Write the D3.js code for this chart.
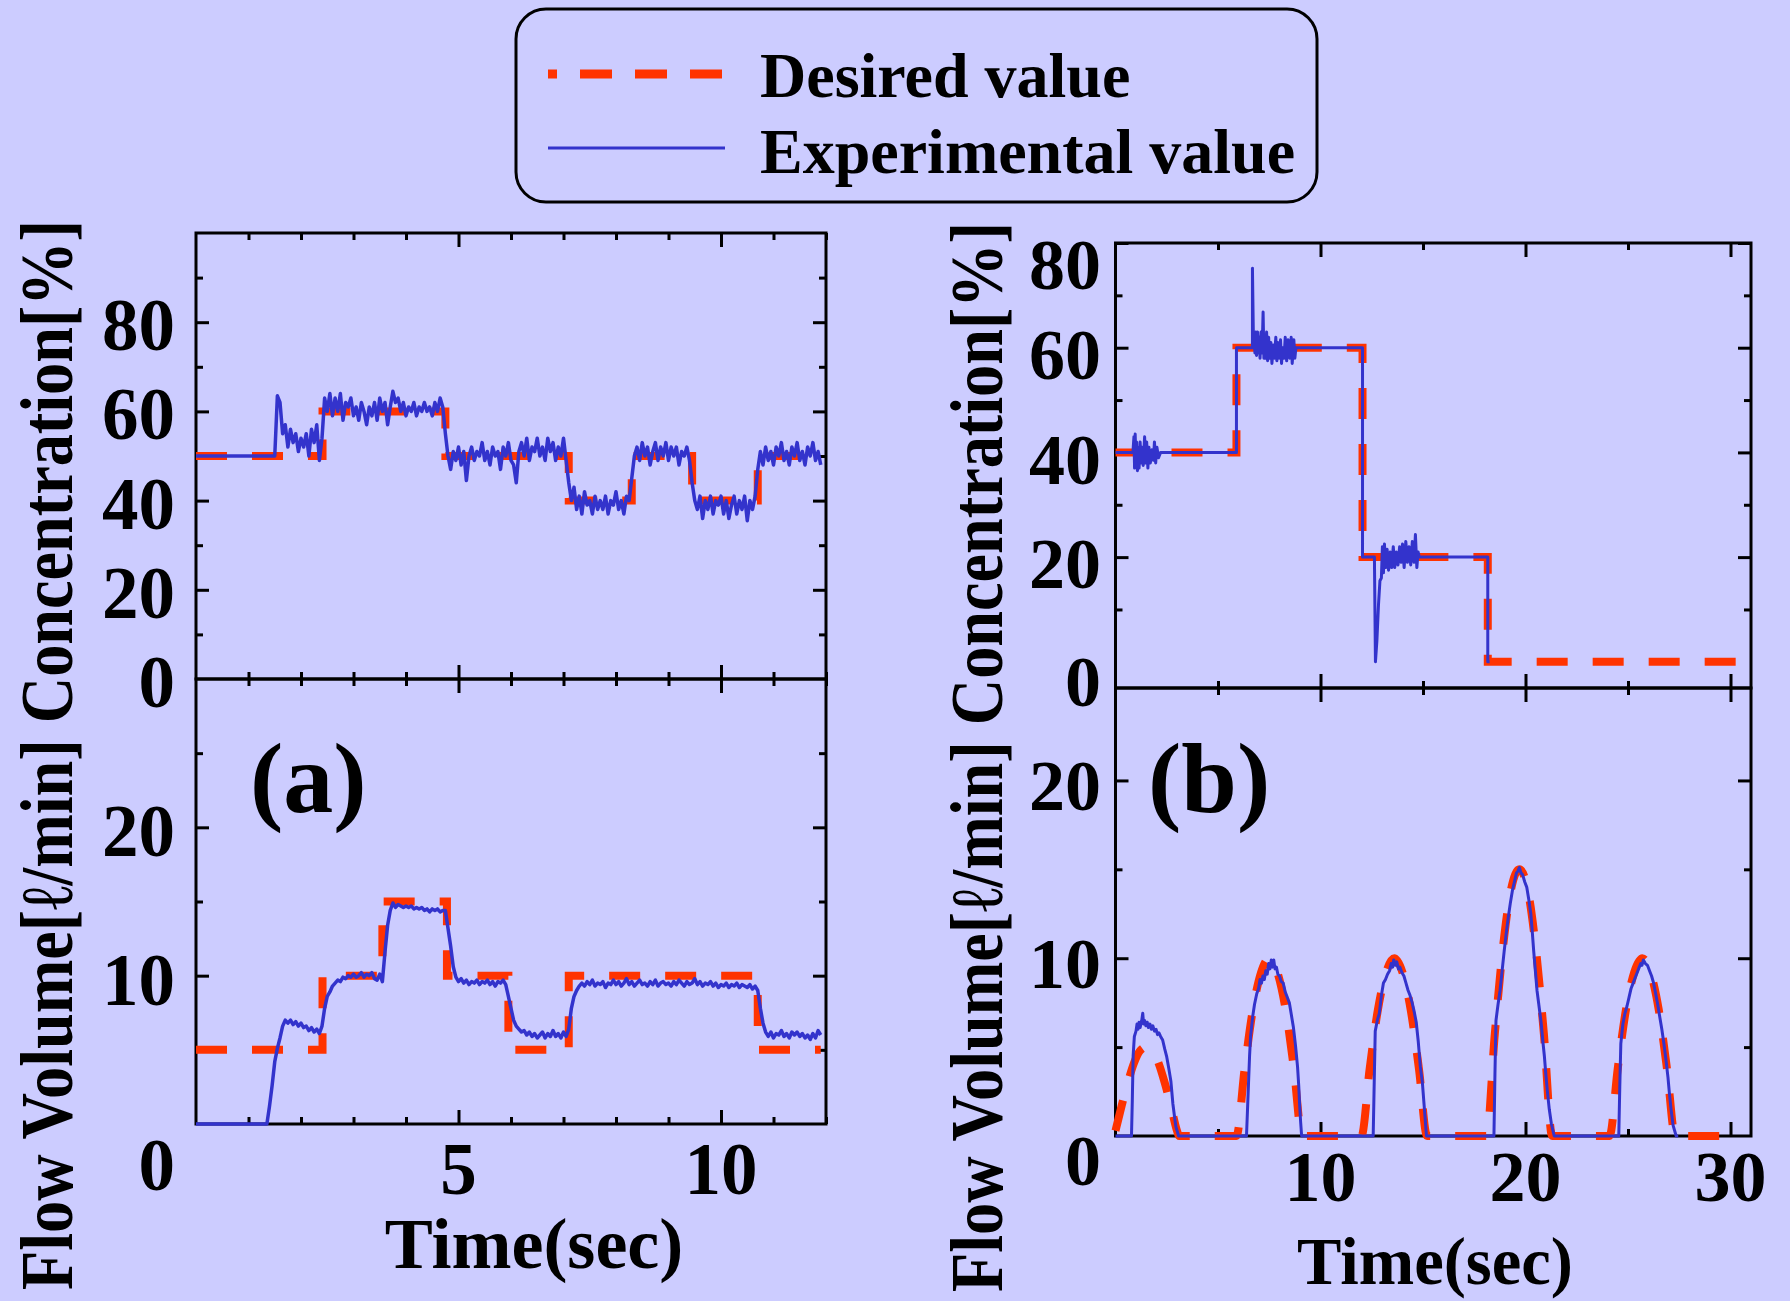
<!DOCTYPE html>
<html>
<head>
  <meta charset="utf-8">
  <title>Concentration and flow volume control</title>
  <script src="https://d3js.org/d3.v7.min.js"></script>
  <style>
    body { margin: 0; background: #ccccff; }
    svg { display: block; }
    text { font-family: 'Liberation Serif', 'Times New Roman', serif; font-weight: bold; fill: #000; }
  </style>
</head>
<body>
<svg id="chart" width="1790" height="1301"></svg>
<script>
// ---- data -------------------------------------------------------------
// panel (a): concentration [%] and flow volume [l/min], sampled every 0.05 s
const sampleStepA = 0.05;
const concADesired = [[0, 50], [2.41, 50], [2.41, 60], [4.75, 60], [4.75, 50], [7.1, 50], [7.1, 40],
  [8.3, 40], [8.3, 50], [9.45, 50], [9.45, 40], [10.7, 40], [10.7, 50], [11.9, 50]];
const concAExperimental = [
  50,50,50,50,50,50,50,50,50,50,50,50,50,50,50,50,50,50,50,50,
  50,50,50,50,50,50,50,50,50,50,50,63.5,62,55,57,52,56,53,55,51,
  54,52,55,50,56,53,57,49,54,63,60,64,59,63,60,64,58,62,61,63,
  59,61,58,62,60,57,61,59,62,58,63,60,62,57,61,64.5,62,63,60,62,
  59,61,60,62,59,61,60,62,60,61,59,62,60,63,61,55,50,47,51,49,
  52,48,51,44.5,50,52,49,51,50,53,49,51,48,52,50,51,47,52,50,53,
  49,48,44,51,53,50,54,49,52,51,54,50,52,49,54,51,53,49,52,50,
  54,49,44,40,43,38,41,37,42,39,40,37,41,38,40,38,41,37,40,39,
  42,38,40,37,41,40,45,50,52,49,53,50,52,48,51,53,49,52,50,53,
  49,52,50,52,48,51,50,52,49,44,40,38,41,36,40,38,41,37,40,39,
  41,37,40,36,39,41,37,40,38,41,35.5,40,38,41,47,51,48,52,49,51,
  48,52,50,53,49,51,48,52,50,53,49,51,48,52,50,53,49,51,48
];
const flowADesired = [[0, 5], [2.41, 5], [2.41, 10], [3.55, 10], [3.55, 15], [4.78, 15], [4.78, 10],
  [5.95, 10], [5.95, 5], [7.1, 5], [7.1, 10], [10.7, 10], [10.7, 5], [11.9, 5]];
const flowAExperimental = [
  0,0,0,0,0,0,0,0,0,0,0,0,0,0,0,0,0,0,0,0,
  0,0,0,0,0,0,0,0,1.2,2.6,4.2,5.1,5.8,6.6,7.0,6.8,7.0,6.7,6.9,6.6,
  6.8,6.5,6.6,6.3,6.5,6.2,6.4,6.1,6.6,7.8,8.6,8.9,9.3,9.5,9.7,9.6,9.9,9.8,10.0,9.9,
  10.1,9.9,10.0,10.2,9.9,10.1,10.0,10.2,9.8,9.7,10.1,9.6,11.6,13.4,14.4,14.9,14.6,14.8,14.7,14.6,
  14.7,14.6,14.7,14.5,14.6,14.5,14.6,14.4,14.5,14.3,14.5,14.4,14.5,14.3,14.4,14.4,13.2,12.0,10.6,9.9,
  9.6,9.8,9.5,9.7,9.4,9.6,9.5,9.7,9.4,9.6,9.5,9.7,9.4,9.6,9.3,9.6,9.5,9.7,9.4,8.6,
  7.8,7.0,6.6,6.4,6.2,6.3,6.0,6.2,5.9,6.1,5.8,6.0,6.2,5.8,6.1,5.9,6.3,5.9,6.1,5.8,
  6.2,5.9,6.4,7.8,8.6,9.0,9.3,9.5,9.3,9.6,9.4,9.7,9.3,9.5,9.4,9.6,9.2,9.5,9.4,9.7,
  9.4,9.6,9.3,9.5,9.8,9.4,9.6,9.3,9.5,9.7,9.4,9.5,9.3,9.6,9.4,9.7,9.3,9.5,9.6,9.4,
  9.5,9.3,9.6,9.4,9.7,9.5,9.3,9.6,9.4,9.5,9.8,9.4,9.6,9.3,9.5,9.4,9.6,9.3,9.5,9.2,
  9.4,9.3,9.5,9.2,9.4,9.3,9.5,9.2,9.4,9.3,9.2,9.4,9.1,9.3,9.0,7.8,6.8,6.2,5.9,6.2,
  5.8,6.1,6.0,6.3,5.9,6.1,5.8,6.2,6.0,6.2,5.9,6.1,5.8,6.0,5.7,6.1,5.8,6.3,6.0
];

// panel (b): [time s, value]
const concBDesired = [[0, 40], [5.9, 40], [5.9, 60], [12.05, 60], [12.05, 20], [18.16, 20], [18.16, 0], [30.3, 0]];
const concBExperimental = [
  [0, 40], [0.85, 40], [0.9, 43], [0.93, 37], [0.96, 43.5], [1.0, 38], [1.03, 42], [1.07, 36.5], [1.1, 41],
  [1.15, 37], [1.2, 42], [1.25, 38], [1.3, 41], [1.35, 37.5], [1.42, 43], [1.47, 38], [1.52, 42], [1.58, 37],
  [1.63, 41], [1.7, 38], [1.78, 40.5], [1.85, 38.5], [1.9, 42], [1.96, 38], [2.02, 41], [2.1, 39], [2.2, 40],
  [5.9, 40], [5.9, 60], [6.68, 60], [6.68, 75.2], [6.73, 61], [6.76, 63], [6.8, 59], [6.84, 63], [6.88, 58.5],
  [6.93, 63], [6.97, 59], [7.02, 62], [7.05, 58], [7.1, 63], [7.15, 59], [7.2, 66.8], [7.24, 58], [7.28, 61],
  [7.32, 58], [7.37, 63], [7.42, 57.5], [7.47, 62], [7.52, 58], [7.58, 61], [7.63, 57], [7.7, 60.5], [7.75, 58],
  [7.82, 62], [7.87, 57.5], [7.92, 61], [7.98, 58], [8.05, 61.5], [8.1, 57], [8.15, 60], [8.22, 58], [8.28, 62],
  [8.35, 57.5], [8.42, 61.5], [8.5, 58], [8.57, 62], [8.62, 57], [8.7, 61.5], [8.75, 58], [8.8, 60],
  [12.05, 60], [12.05, 20], [12.63, 20], [12.68, 0], [12.75, 4], [12.83, 11], [12.9, 15.5], [12.97, 16],
  [13.02, 22], [13.07, 17], [13.12, 22.5], [13.18, 18], [13.25, 21.5], [13.32, 17.5], [13.4, 21], [13.47, 18],
  [13.55, 22], [13.62, 18], [13.7, 21], [13.78, 18.5], [13.86, 22], [13.93, 19], [14.0, 22.5], [14.08, 18],
  [14.16, 23], [14.24, 19], [14.32, 22], [14.4, 18.5], [14.48, 23], [14.56, 19], [14.63, 24.3], [14.7, 18],
  [14.76, 21], [14.82, 20], [18.16, 20], [18.16, 0], [18.25, 0]
];
const flowBDesired = [
  [0, 0.3], [0.3, 1.7], [0.6, 3.0], [0.9, 4.1], [1.2, 4.8], [1.5, 5.0], [1.8, 4.8], [2.1, 4.1], [2.4, 3.0], [2.7, 1.7], [3.0, 0.3], [3.1, 0],
  [5.9, 0], [6.3, 3.8], [6.7, 7.1], [7.1, 9.2], [7.5, 10], [7.9, 9.2], [8.3, 7.1], [8.7, 3.8], [9.1, 0],
  [12.0, 0], [12.4, 3.8], [12.8, 7.1], [13.2, 9.2], [13.6, 10], [14.0, 9.2], [14.4, 7.1], [14.8, 3.8], [15.2, 0],
  [18.1, 0], [18.5, 5.7], [18.9, 10.6], [19.3, 13.9], [19.7, 15], [20.1, 13.9], [20.5, 10.6], [20.9, 5.7], [21.3, 0],
  [24.1, 0], [24.5, 3.8], [24.9, 7.1], [25.3, 9.2], [25.7, 10], [26.1, 9.2], [26.5, 7.1], [26.9, 3.8], [27.3, 0],
  [30.3, 0]
];
const flowBExperimental = [
  [0, 0], [0.78, 0], [0.82, 2.0], [0.86, 4.5], [0.92, 5.6], [1.0, 5.9], [1.05, 6.3], [1.1, 6.0], [1.15, 6.4], [1.2, 6.1],
  [1.28, 6.5], [1.33, 6.9], [1.37, 6.3], [1.42, 6.5], [1.48, 6.2], [1.55, 6.4], [1.6, 6.1], [1.68, 6.3], [1.75, 6.0],
  [1.82, 6.2], [1.9, 5.9], [1.98, 6.0], [2.05, 5.7], [2.12, 5.8], [2.2, 5.6], [2.3, 5.4], [2.4, 4.9], [2.5, 4.45],
  [2.6, 3.8], [2.7, 3.1], [2.8, 1.8], [2.9, 0.9], [2.95, 0.5], [3.08, 0],
  [6.39, 0], [6.44, 1.5], [6.49, 3.0], [6.54, 4.5], [6.59, 5.6], [6.69, 6.7], [6.78, 7.4], [6.89, 8.0], [6.98, 8.3],
  [7.05, 8.8], [7.12, 8.6], [7.19, 9.0], [7.26, 8.8], [7.33, 9.3], [7.4, 9.1], [7.47, 9.7], [7.53, 9.4], [7.6, 9.9],
  [7.66, 9.5], [7.72, 9.9], [7.78, 9.4], [7.85, 9.5], [7.92, 9.1], [8.0, 9.0], [8.08, 8.7], [8.18, 8.6], [8.28, 8.1],
  [8.38, 7.8], [8.48, 7.5], [8.58, 6.8], [8.68, 6.1], [8.78, 5.1], [8.88, 3.9], [8.94, 2.8], [8.98, 1.8], [9.03, 0.8], [9.08, 0],
  [12.57, 0], [12.62, 3.0], [12.67, 5.9], [12.77, 6.5], [12.87, 6.9], [12.97, 7.9], [13.07, 8.6], [13.17, 8.8], [13.27, 9.1],
  [13.37, 9.3], [13.45, 9.7], [13.52, 9.5], [13.57, 9.9], [13.65, 9.6], [13.72, 9.8], [13.8, 9.4], [13.87, 9.5], [13.97, 9.2],
  [14.07, 9.0], [14.17, 8.6], [14.27, 8.2], [14.37, 7.9], [14.47, 7.5], [14.57, 7.0], [14.67, 6.4], [14.77, 5.3],
  [14.87, 3.9], [14.97, 3.0], [15.07, 1.5], [15.17, 0],
  [18.46, 0], [18.51, 3.5], [18.56, 6.5], [18.66, 7.4], [18.76, 8.2], [18.86, 9.3], [18.96, 10.4], [19.06, 11.4],
  [19.16, 12.3], [19.26, 13.1], [19.36, 13.8], [19.46, 14.3], [19.56, 14.8], [19.63, 14.9], [19.7, 15.1], [19.78, 14.8],
  [19.86, 14.7], [19.96, 14.3], [20.06, 14.0], [20.16, 13.3], [20.26, 12.5], [20.33, 11.5], [20.4, 10.4], [20.48, 9.3],
  [20.56, 8.2], [20.66, 7.3], [20.76, 6.4], [20.84, 5.4], [20.92, 4.5], [20.99, 3.5], [21.06, 2.6], [21.16, 1.5],
  [21.26, 0.7], [21.4, 0],
  [24.55, 0], [24.6, 2.8], [24.65, 5.2], [24.75, 6.3], [24.85, 6.9], [24.95, 7.3], [25.05, 7.8], [25.15, 8.3], [25.25, 8.6],
  [25.35, 8.9], [25.45, 9.2], [25.55, 9.5], [25.62, 9.7], [25.68, 9.6], [25.75, 9.9], [25.85, 9.7], [25.95, 9.6],
  [26.05, 9.3], [26.15, 9.0], [26.25, 8.6], [26.35, 8.0], [26.45, 7.4], [26.55, 6.7], [26.65, 6.0], [26.75, 5.2],
  [26.85, 4.3], [26.95, 3.3], [27.02, 2.4], [27.1, 1.5], [27.2, 0.6], [27.35, 0], [27.45, 0]
];

const yTicksConcA = [0, 20, 40, 60, 80];
const yTicksFlowA = [10, 20];
const xTicksA = [5, 10];
const yTicksConcB = [0, 20, 40, 60, 80];
const yTicksFlowB = [10, 20];
const xTicksB = [10, 20, 30];

// ---- layout -----------------------------------------------------------
const RED = "#ff3300", BLUE = "#3333cc";
const svg = d3.select("#chart");
svg.append("rect").attr("width", 1790).attr("height", 1301).attr("fill", "#ccccff");

const xA = d3.scaleLinear().domain([0, 12]).range([196, 826]);
const yConcA = d3.scaleLinear().domain([0, 100]).range([679, 233]);
const yFlowA = d3.scaleLinear().domain([0, 30]).range([1124, 679]);

const xB = d3.scaleLinear().domain([0, 31]).range([1115.5, 1751]);
const yConcB = d3.scaleLinear().domain([-5, 80]).range([688, 243]);
const yFlowB = d3.scaleLinear().domain([0, 25.2]).range([1136, 688]);

const stepSeries = (vals, dt) => vals.map((v, i) => [i * dt, v]);

// inward ticks for one box: major ticks long, minor ones short
function boxTicks(x, y, xMajor, xMinor, yMajor, yMinor) {
  const [x0, x1] = x.range();
  const [yb, yt] = y.range();
  const g = svg.append("g");
  const put = (axisFn, scale, values, size, tx, ty) => {
    const a = g.append("g").attr("transform", `translate(${tx},${ty})`)
      .call(axisFn(scale).tickValues(values).tickSize(-size).tickFormat(""));
    a.select(".domain").remove();
    a.selectAll("line").attr("stroke", "#000").attr("stroke-width", 3);
  };
  put(d3.axisLeft, y, yMajor, 13, x0, 0);
  put(d3.axisLeft, y, yMinor, 7, x0, 0);
  put(d3.axisRight, y, yMajor, 13, x1, 0);
  put(d3.axisRight, y, yMinor, 7, x1, 0);
  put(d3.axisTop, x, xMajor, 14, 0, yt);
  put(d3.axisTop, x, xMinor, 7, 0, yt);
  put(d3.axisBottom, x, xMajor, 14, 0, yb);
  put(d3.axisBottom, x, xMinor, 7, 0, yb);
  g.append("rect")
    .attr("x", x0).attr("y", yt).attr("width", x1 - x0).attr("height", yb - yt)
    .attr("fill", "none").attr("stroke", "#000").attr("stroke-width", 3);
}

function drawLines(x, y, desired, experimental, curve, blueWidth) {
  const desiredLine = d3.line().x(d => x(d[0])).y(d => y(d[1])).curve(curve);
  const line = d3.line().x(d => x(d[0])).y(d => y(d[1]));
  svg.append("path").datum(desired)
    .attr("d", desiredLine).attr("fill", "none")
    .attr("stroke", RED).attr("stroke-width", 8).attr("stroke-dasharray", "31,25");
  svg.append("path").datum(experimental)
    .attr("d", line).attr("fill", "none")
    .attr("stroke", BLUE).attr("stroke-width", blueWidth).attr("stroke-linejoin", "round");
}

// ---- panel (a) --------------------------------------------------------
const xAMinor = d3.range(0, 13).filter(d => d % 5 !== 0);
boxTicks(xA, yConcA, [5, 10], xAMinor, [20, 40, 60, 80], [10, 30, 50, 70, 90]);
boxTicks(xA, yFlowA, [5, 10], xAMinor, [10, 20], [5, 15, 25]);
drawLines(xA, yConcA, concADesired, stepSeries(concAExperimental, sampleStepA), d3.curveLinear, 3.5);
drawLines(xA, yFlowA, flowADesired, stepSeries(flowAExperimental, sampleStepA), d3.curveLinear, 3.5);

// ---- panel (b) --------------------------------------------------------
boxTicks(xB, yConcB, [10, 20, 30], [5, 15, 25], [20, 40, 60, 80], [10, 30, 50, 70]);
boxTicks(xB, yFlowB, [10, 20, 30], [5, 15, 25], [10, 20], [5, 15]);
drawLines(xB, yConcB, concBDesired, concBExperimental, d3.curveLinear, 3);
drawLines(xB, yFlowB, flowBDesired, flowBExperimental, d3.curveMonotoneX, 3);

// ---- tick labels ------------------------------------------------------
function label(txt, x, y, size, anchor) {
  return svg.append("text").attr("x", x).attr("y", y).attr("font-size", size)
    .attr("text-anchor", anchor).text(txt);
}
yTicksConcA.forEach(v => label(v, 175, yConcA(v) + 28, 73, "end"));
yTicksFlowA.forEach(v => label(v, 175, yFlowA(v) + 29, 73, "end"));
label("0", 175, 1190, 73, "end");
xTicksA.forEach(v => label(v, xA(v), 1194, 73, "middle"));

const concBLabelShift = { 0: 44, 20: 31, 40: 32, 60: 31, 80: 46 };
yTicksConcB.forEach(v => label(v, 1101, yConcB(v) + concBLabelShift[v], 72, "end"));
yTicksFlowB.forEach(v => label(v, 1101, yFlowB(v) + 30, 72, "end"));
label("0", 1101, 1185, 72, "end");
xTicksB.forEach(v => label(v, xB(v), 1201, 72, "middle"));

// ---- titles -----------------------------------------------------------
label("Time(sec)", 534, 1268, 72, "middle");
label("Time(sec)", 1435, 1284, 68, "middle")
  .attr("textLength", 276).attr("lengthAdjust", "spacingAndGlyphs");

[[72, 1290], [1002, 1292]].forEach(([bx, by]) => {
  svg.append("text")
    .attr("transform", `translate(${bx},${by}) rotate(-90)`)
    .attr("font-size", 74)
    .attr("textLength", 1070).attr("lengthAdjust", "spacingAndGlyphs")
    .text("Flow Volume[ℓ/min] Concentration[%]");
});

label("(a)", 250, 812, 100, "start");
label("(b)", 1148, 812, 100, "start");

// ---- legend -----------------------------------------------------------
const legend = svg.append("g");
legend.append("rect")
  .attr("x", 516).attr("y", 9).attr("width", 801).attr("height", 193)
  .attr("rx", 30).attr("ry", 30)
  .attr("fill", "none").attr("stroke", "#000").attr("stroke-width", 3);
legend.append("line").attr("x1", 548).attr("x2", 725).attr("y1", 74).attr("y2", 74)
  .attr("stroke", RED).attr("stroke-width", 9)
  .attr("stroke-dasharray", "32,23").attr("stroke-dashoffset", 23);
legend.append("line").attr("x1", 548).attr("x2", 725).attr("y1", 148).attr("y2", 148)
  .attr("stroke", BLUE).attr("stroke-width", 3);
legend.append("text").attr("x", 760).attr("y", 97).attr("font-size", 64).text("Desired value");
legend.append("text").attr("x", 760).attr("y", 173).attr("font-size", 64).text("Experimental value");
</script>
</body>
</html>
